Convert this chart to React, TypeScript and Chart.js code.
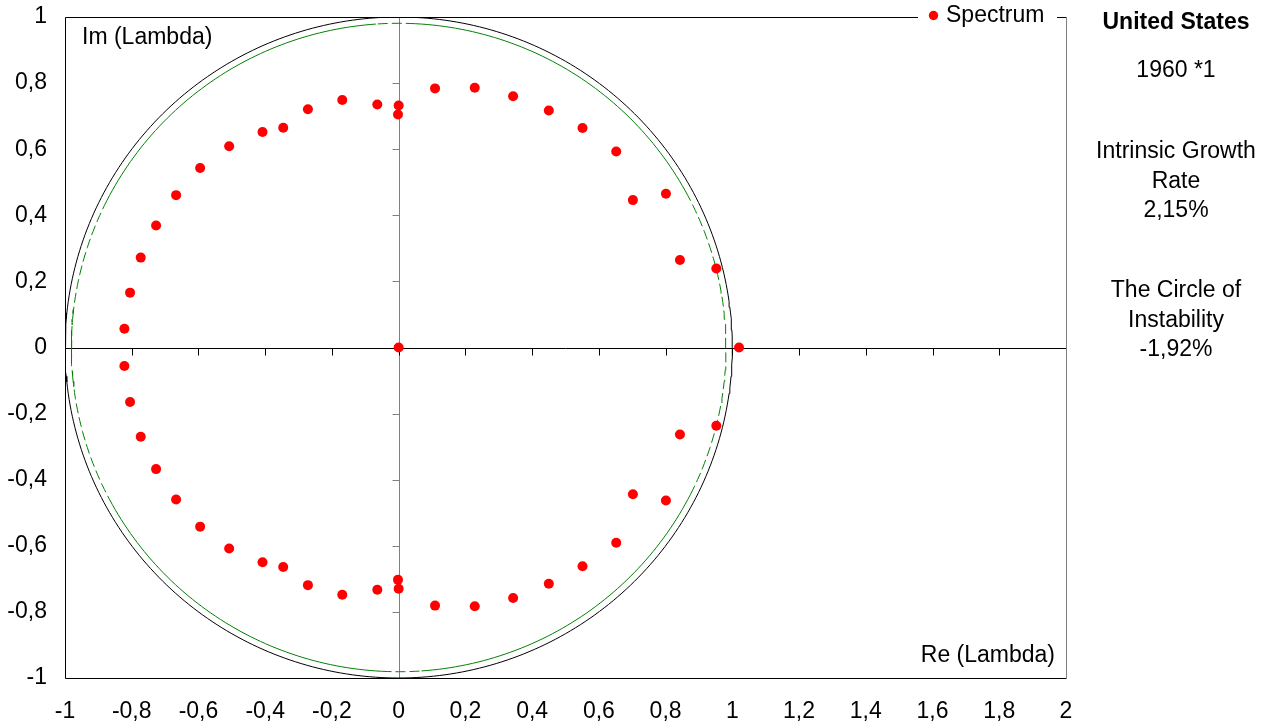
import { useEffect, useRef } from "react";
import { Chart, registerables } from "chart.js";

Chart.register(...registerables);

// ---- data ----
const spectrumRe = [
  // upper half
  -0.822, -0.805, -0.773, -0.727, -0.667, -0.595, -0.508, -0.408, -0.346, -0.272, -0.169, -0.064, 0.0, -0.002,
  0.109, 0.228, 0.343, 0.45, 0.551, 0.652, 0.702, 0.801, 0.843, 0.952,
  // real axis
  0.0, 1.02,
  // lower half
  -0.822, -0.805, -0.773, -0.727, -0.667, -0.595, -0.508, -0.408, -0.346, -0.272, -0.169, -0.064, 0.0, -0.002,
  0.109, 0.228, 0.343, 0.45, 0.551, 0.652, 0.702, 0.801, 0.843, 0.952,
];
const spectrumIm = [
  0.057, 0.166, 0.272, 0.369, 0.461, 0.543, 0.609, 0.652, 0.665, 0.721, 0.749, 0.735, 0.732, 0.705,
  0.784, 0.786, 0.76, 0.717, 0.664, 0.593, 0.446, 0.465, 0.265, 0.239,
  0.0, 0.0,
  -0.056, -0.165, -0.27, -0.368, -0.46, -0.542, -0.608, -0.65, -0.664, -0.719, -0.748, -0.733, -0.73, -0.703,
  -0.781, -0.783, -0.758, -0.715, -0.662, -0.591, -0.444, -0.463, -0.263, -0.237,
];

const xAxisRange = [-1, 2];
const yAxisRange = [-1, 1];
const tickStep = 0.2;

const unitCircleRadius = 1;
const instabilityCircleRadius = 0.981;

const legendLabel = "Spectrum";
const xAxisTitle = "Re (Lambda)";
const yAxisTitle = "Im (Lambda)";
const panelTitle = "United States";
const panelLines = ["1960 *1", "Intrinsic Growth", "Rate", "2,15%", "The Circle of", "Instability", "-1,92%"];

const FONT = "'Liberation Sans', Arial, sans-serif";
const FONT_SIZE = 23;

function circlePoints(r: number) {
  const pts: { x: number; y: number }[] = [];
  for (let i = 0; i <= 360; i++) {
    const a = (i * Math.PI) / 180;
    pts.push({ x: r * Math.cos(a), y: r * Math.sin(a) });
  }
  return pts;
}

function fmt(v: number) {
  const r = Math.round(v * 10) / 10;
  return String(r === 0 ? 0 : r).replace(".", ",");
}

const decorPlugin = {
  id: "decor",
  beforeDatasetsDraw(chart: any) {
    const { ctx, chartArea, scales } = chart;
    const xs = scales.x;
    const ys = scales.y;
    const x0 = Math.round(xs.getPixelForValue(0)) + 0.5;
    const y0 = Math.round(ys.getPixelForValue(0)) + 0.5;
    ctx.save();
    ctx.lineWidth = 1;
    // vertical zero axis (gray) with ticks pointing left
    ctx.strokeStyle = "#808080";
    ctx.beginPath();
    ctx.moveTo(x0, chartArea.top);
    ctx.lineTo(x0, chartArea.bottom);
    ys.ticks.forEach((t: any) => {
      const py = Math.round(ys.getPixelForValue(t.value)) + 0.5;
      ctx.moveTo(x0 - 7, py);
      ctx.lineTo(x0, py);
    });
    ctx.stroke();
    // horizontal zero axis (black) with ticks pointing down
    ctx.strokeStyle = "#000";
    ctx.beginPath();
    ctx.moveTo(chartArea.left, y0);
    ctx.lineTo(chartArea.right, y0);
    xs.ticks.forEach((t: any) => {
      const px = Math.round(xs.getPixelForValue(t.value)) + 0.5;
      ctx.moveTo(px, y0);
      ctx.lineTo(px, y0 + 7);
    });
    ctx.stroke();
    ctx.restore();
  },
  afterDraw(chart: any) {
    const { ctx, chartArea } = chart;
    const L = Math.round(chartArea.left) + 0.5;
    const R = Math.round(chartArea.right) + 0.5;
    const T = Math.round(chartArea.top) + 0.5;
    const B = Math.round(chartArea.bottom) + 0.5;
    ctx.save();
    ctx.lineWidth = 1;
    ctx.strokeStyle = "#000";
    ctx.beginPath();
    ctx.moveTo(R, T);
    ctx.lineTo(L, T);
    ctx.lineTo(L, B);
    ctx.lineTo(R, B);
    ctx.stroke();
    ctx.strokeStyle = "#808080";
    ctx.beginPath();
    ctx.moveTo(R, T);
    ctx.lineTo(R, B);
    ctx.stroke();

    // legend box overlapping the top border
    ctx.fillStyle = "#fff";
    ctx.fillRect(918, 4, 139, 24);
    ctx.fillStyle = "#ff0000";
    ctx.beginPath();
    ctx.arc(933.5, 15.5, 4.7, 0, Math.PI * 2);
    ctx.fill();
    ctx.fillStyle = "#000";
    ctx.font = `${FONT_SIZE}px ${FONT}`;
    ctx.textBaseline = "middle";
    ctx.textAlign = "left";
    ctx.fillText(legendLabel, 946, 16);

    // axis titles inside the plot
    ctx.fillText(yAxisTitle, 82, 38);
    ctx.textAlign = "right";
    ctx.fillText(xAxisTitle, 1055, 656);

    // right panel
    const cx = 1176;
    ctx.textAlign = "center";
    ctx.font = `bold ${FONT_SIZE}px ${FONT}`;
    ctx.fillText(panelTitle, cx, 23);
    ctx.font = `${FONT_SIZE}px ${FONT}`;
    const ys = [71, 152, 182, 211, 291, 321, 350];
    panelLines.forEach((s, i) => ctx.fillText(s, cx, ys[i]));
    ctx.restore();
  },
};

export default function App() {
  const ref = useRef<HTMLCanvasElement | null>(null);
  useEffect(() => {
    if (!ref.current) return;
    const spectrum = spectrumRe.map((x, i) => ({ x, y: spectrumIm[i] }));
    const chart = new Chart(ref.current, {
      type: "scatter",
      data: {
        datasets: [
          {
            label: legendLabel,
            data: spectrum,
            showLine: false,
            pointRadius: 5,
            pointBackgroundColor: "#ff0000",
            pointBorderWidth: 0,
            order: 0,
          },
          {
            label: "Unit circle",
            data: circlePoints(unitCircleRadius),
            showLine: true,
            borderColor: "#000",
            borderWidth: 1,
            pointRadius: 0,
            order: 2,
          },
          {
            label: "Circle of instability",
            data: circlePoints(instabilityCircleRadius),
            showLine: true,
            borderColor: "#008000",
            borderWidth: 1,
            pointRadius: 0,
            order: 1,
            segment: {
              borderDash: (c: any) => {
                const p = c.p0.parsed;
                return Math.abs(p.y) < 0.45 || Math.abs(p.x) < 0.06 ? [10, 4] : undefined;
              },
            },
          } as any,
        ],
      },
      options: {
        responsive: false,
        animation: false,
        events: [],
        layout: { padding: { left: 0, right: 199, top: 17, bottom: 0 } },
        plugins: { legend: { display: false }, tooltip: { enabled: false } },
        scales: {
          x: {
            type: "linear",
            min: xAxisRange[0],
            max: xAxisRange[1],
            grid: { display: false, drawTicks: false },
            border: { display: false },
            ticks: {
              stepSize: tickStep,
              autoSkip: false,
              maxRotation: 0,
              padding: 20,
              color: "#000",
              font: { family: FONT, size: FONT_SIZE },
              callback: (v: any) => fmt(Number(v)),
            },
            afterFit: (s: any) => {
              s.height = 48;
              s.paddingLeft = 0;
              s.paddingRight = 0;
            },
          },
          y: {
            type: "linear",
            min: yAxisRange[0],
            max: yAxisRange[1],
            grid: { display: false, drawTicks: false },
            border: { display: false },
            ticks: {
              stepSize: tickStep,
              autoSkip: false,
              padding: 18,
              color: "#000",
              font: { family: FONT, size: FONT_SIZE },
              callback: (v: any) => fmt(Number(v)),
            },
            afterFit: (s: any) => {
              s.width = 65;
              s.paddingTop = 0;
              s.paddingBottom = 0;
            },
          },
        },
      },
      plugins: [decorPlugin],
    });
    return () => chart.destroy();
  }, []);
  return (
    <div style={{ position: "fixed", left: 0, top: 0, width: 1265, height: 726, background: "#fff" }}>
      <canvas ref={ref} width={1265} height={726} style={{ width: 1265, height: 726, display: "block" }} />
    </div>
  );
}
